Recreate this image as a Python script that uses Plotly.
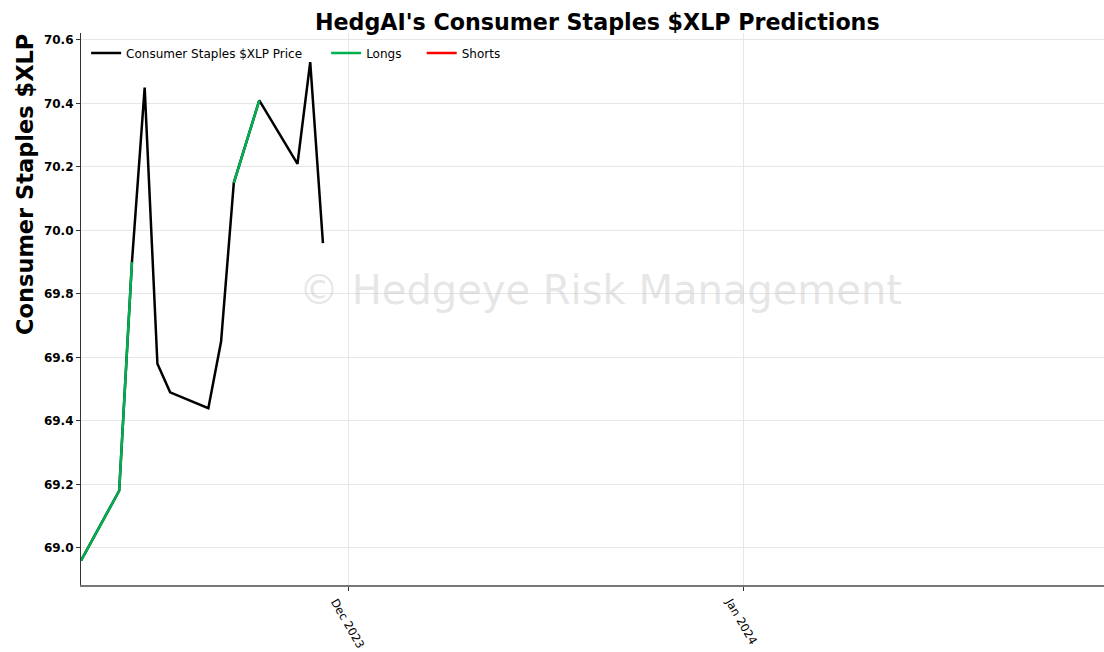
import plotly.graph_objects as go

dates = ["2023-11-10", "2023-11-13", "2023-11-14", "2023-11-15", "2023-11-16",
         "2023-11-17", "2023-11-20", "2023-11-21", "2023-11-22", "2023-11-24",
         "2023-11-27", "2023-11-28", "2023-11-29"]
prices = [68.96, 69.18, 69.90, 70.45, 69.58, 69.49, 69.44, 69.65, 70.15, 70.41,
          70.21, 70.53, 69.96]
# Long signal flags per point (segment drawn green between consecutive flagged points)
longs = [1, 1, 1, 0, 0, 0, 0, 0, 1, 1, 0, 0, 0]

long_x, long_y = [], []
for i in range(len(dates) - 1):
    if longs[i] and longs[i + 1]:
        long_x += [dates[i], dates[i + 1], None]
        long_y += [prices[i], prices[i + 1], None]

font = "DejaVu Sans"
nb = "\u00a0"
fig = go.Figure()
fig.add_trace(go.Scatter(x=dates, y=prices, mode="lines", name="Consumer Staples $XLP Price" + nb * 5,
                         line=dict(color="black", width=2.5)))
fig.add_trace(go.Scatter(x=long_x, y=long_y, mode="lines", name="Longs" + nb * 4,
                         line=dict(color="#00b050", width=2.5), connectgaps=False))
fig.add_trace(go.Scatter(x=[None], y=[None], mode="lines", name="Shorts",
                         line=dict(color="red", width=2.5)))

fig.add_annotation(text="© Hedgeye Risk Management", x=0.508, y=0.535, xref="paper", yref="paper",
                   showarrow=False, font=dict(family=font, size=40, color="rgba(200,200,200,0.45)"))

fig.add_annotation(text="<b>Consumer Staples $XLP</b>", xref="paper", yref="paper",
                   x=(25 - 81) / 1023, y=(585 - 185) / 552, xanchor="center", yanchor="middle",
                   showarrow=False, textangle=-90, font=dict(family=font, size=22.5, color="black"))

fig.update_layout(
    width=1104, height=652,
    margin=dict(l=81, r=0, t=33, b=67, autoexpand=False),
    paper_bgcolor="white", plot_bgcolor="white",
    font=dict(family=font, color="black"),
    title=dict(text="<b>HedgAI's Consumer Staples $XLP Predictions</b>", x=0.541, xanchor="center",
               y=0.966, yanchor="middle", font=dict(size=22.2, family=font)),
    showlegend=True,
    legend=dict(orientation="h", x=0.005, y=0.990, xanchor="left", yanchor="top",
                font=dict(size=12, family=font), bgcolor="rgba(255,255,255,0)"),
    xaxis=dict(range=["2023-11-10", "2024-01-29 08:00"], dtick="M1", tick0="2023-12-01",
               tickformat="%b %Y", tickangle=60, showgrid=True, gridcolor="#e6e6e6",
               showline=True, linecolor="#777", linewidth=1.5, ticks="outside", ticklen=4,
               tickcolor="#333", tickfont=dict(size=11.5, family=font), zeroline=False,
               automargin=False, ticklabelshift=-13, ticklabelstandoff=0),
    yaxis=dict(range=[68.883, 70.622], dtick=0.2, tickformat=".1f", showgrid=True,
               gridcolor="#e6e6e6", showline=True, linecolor="#333", linewidth=1.2,
               ticks="outside", ticklen=4, tickcolor="#333",
               tickfont=dict(size=12, family=font, weight="bold"), zeroline=False,
               automargin=False),
)

fig.write_html("out.html", config={"displayModeBar": False},
               post_script="document.body.style.margin='0';document.body.style.overflow='hidden';")
